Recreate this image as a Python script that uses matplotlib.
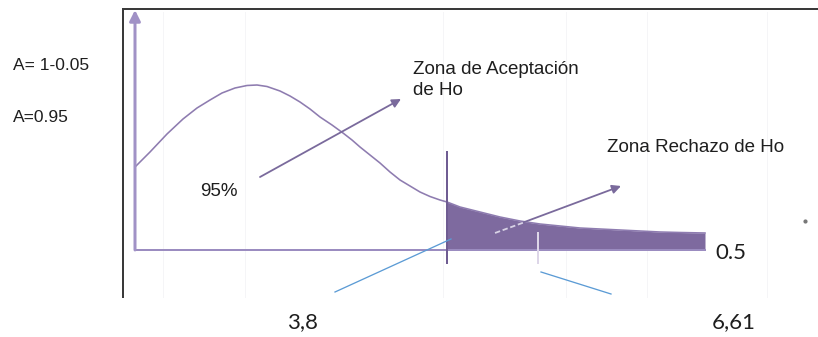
import matplotlib
matplotlib.use("Agg")
import matplotlib.pyplot as plt
import numpy as np

# ---- data (diagram units) ----
curve_x = [135, 150, 167, 183, 197, 210, 222, 235, 247, 257, 267, 280, 290, 300, 310,
           320, 332, 343, 352, 360, 370, 380, 390, 400, 410, 420, 430, 440, 447, 460,
           480, 500, 520, 540, 560, 580, 600, 620, 640, 660, 680, 705]
curve_y = [167, 152, 134, 119, 108, 100, 93, 88, 85.5, 85, 86.5, 91, 96, 102, 109,
           117, 125, 133, 140, 147, 155, 163, 172, 180, 186, 192, 196.5, 200, 202, 207,
           212, 217, 221, 224, 226, 228, 229, 230, 231, 232, 232.5, 233]
baseline = 250
critical_x = 447       # 3,8
stat_x = 538           # 6,61
tail_end = 705

labels_left = ["A= 1-0.05", "A=0.95"]
label_accept = "Zona de Aceptación\nde Ho"
label_reject = "Zona Rechazo de Ho"
label_pct = "95%"
label_alpha = "0.5"
label_crit = "3,8"
label_stat = "6,61"

# ---- figure ----
fig = plt.figure(figsize=(8.18, 3.37), dpi=100)
ax = fig.add_axes([0, 0, 1, 1])
ax.set_xlim(0, 818)
ax.set_ylim(337, 0)
ax.axis("off")

px = 72 / 100.0  # points per pixel

# faint background grid lines
for gx in [163, 245, 443, 566, 647, 767]:
    ax.plot([gx, gx], [12, 297], color="#f5f5f7", lw=1 * px, zorder=0)

# frame (left and top)
ax.plot([123, 123, 818], [297, 9, 9], color="#3a3a3a", lw=2 * px, zorder=1,
        solid_joinstyle="miter")

# fill rejection region
cx = np.array(curve_x, dtype=float)
cy = np.array(curve_y, dtype=float)
m = cx >= critical_x
ax.fill_between(cx[m], cy[m], baseline, color="#7e6a9f", lw=0, zorder=2)

# curve
ax.plot(cx, cy, color="#8e7cb0", lw=1.6 * px, zorder=3, solid_joinstyle="round")

# axes of the diagram
ax.plot([135, tail_end], [baseline, baseline], color="#9b8cc0", lw=2 * px, zorder=3)
ax.annotate("", xy=(135, 10), xytext=(135, baseline),
            arrowprops=dict(arrowstyle="-|>", color="#a192c6", lw=3 * px,
                            mutation_scale=16, shrinkA=0, shrinkB=0), zorder=3)

# critical value line
ax.plot([critical_x, critical_x], [152, 263], color="#6f5c92", lw=2 * px, zorder=4)
# statistic tick
ax.plot([stat_x, stat_x], [233, 263], color="#ddd6e8", lw=2 * px, zorder=4)

# arrows
ax.annotate("", xy=(401, 99), xytext=(260, 177),
            arrowprops=dict(arrowstyle="-|>", color="#7a6a9c", lw=1.8 * px,
                            mutation_scale=13, shrinkA=0, shrinkB=0), zorder=5)
ax.annotate("", xy=(621, 186), xytext=(495, 233),
            arrowprops=dict(arrowstyle="-|>", color="#7a6a9c", lw=1.8 * px,
                            mutation_scale=13, shrinkA=0, shrinkB=0), zorder=5)
ax.plot([495, 525], [233, 222], color="#d9d2e6", lw=1.8 * px, ls=(0, (3, 1.5)), zorder=6)

# blue leader lines
ax.plot([451, 335], [239, 292], color="#5b9bd5", lw=1.3 * px, zorder=5)
ax.plot([541, 611], [272, 294], color="#5b9bd5", lw=1.3 * px, zorder=5)

# small dot
ax.plot([805], [221], marker="o", ms=2, color="#777777", zorder=5)

# texts
tc = "#1e1e1e"
sans = ["Liberation Sans", "DejaVu Sans"]
ax.text(13, 66, labels_left[0], fontsize=12.5, family=sans, color=tc, va="center", ha="left")
ax.text(13, 117, labels_left[1], fontsize=12.5, family=sans, color=tc, va="center", ha="left")
ax.text(413, 80, label_accept, fontsize=13.5, family=sans, color=tc, va="center",
        ha="left", linespacing=1.35)
ax.text(607, 148, label_reject, fontsize=13.5, family=sans, color=tc, va="center", ha="left")
ax.text(200, 191, label_pct, fontsize=13.5, family=sans, color=tc, va="center", ha="left")

big = ["Lato", "DejaVu Sans"]
ax.text(715, 253, label_alpha, fontsize=16, family=big, color=tc, va="center", ha="left")
ax.text(287, 322, label_crit, fontsize=16, family=big, color=tc, va="center", ha="left")
ax.text(712, 322, label_stat, fontsize=16, family=big, color=tc, va="center", ha="left")

fig.savefig("out.png", dpi=100)
